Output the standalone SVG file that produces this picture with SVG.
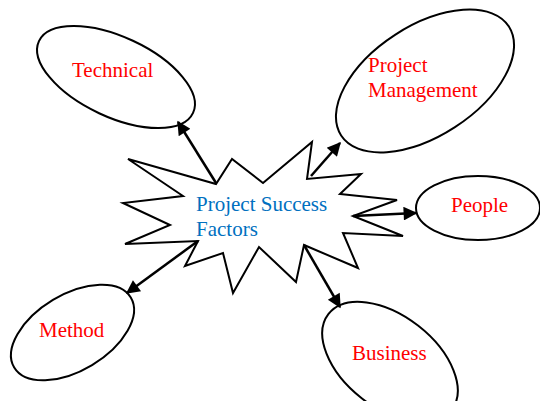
<svg xmlns="http://www.w3.org/2000/svg" width="540" height="401" viewBox="0 0 540 401">
<defs>
<style>
.node ellipse{fill:#fff;stroke:#000;stroke-width:2}
.lbl{font-family:"Liberation Serif","Times New Roman",serif;font-size:21px;fill:#ff0000}
.ctr{font-family:"Liberation Serif","Times New Roman",serif;font-size:21px;fill:#0070c0}
.star{fill:#fff;stroke:#000;stroke-width:2;stroke-linejoin:miter}
.conn line{stroke:#000;stroke-width:2.5;marker-end:url(#ah)}
</style>
<marker id="ah" viewBox="0 0 10 10" refX="9" refY="5" markerWidth="6.5" markerHeight="5.5" markerUnits="strokeWidth" orient="auto">
<path d="M0,0 L10,5 L0,10 Z" fill="#000"/>
</marker>
</defs>
<rect width="540" height="401" fill="#fff"/>
<g id="technical" class="node">
<ellipse cx="116" cy="77" rx="85" ry="40" transform="rotate(25 116 77)"/>
<text class="lbl" x="72" y="77">Technical</text>
</g>
<g id="project-management" class="node">
<ellipse cx="425" cy="81" rx="100" ry="55" transform="rotate(-33 425 81)"/>
<text class="lbl" x="368" y="72">Project</text>
<text class="lbl" x="368" y="97">Management</text>
</g>
<g id="people" class="node">
<ellipse cx="478" cy="208" rx="62" ry="32"/>
<text class="lbl" x="451" y="212">People</text>
</g>
<g id="method" class="node">
<ellipse cx="72.5" cy="332.5" rx="68" ry="38" transform="rotate(-31 72.5 332.5)"/>
<text class="lbl" x="39" y="337">Method</text>
</g>
<g id="business" class="node">
<ellipse cx="390" cy="362" rx="78" ry="46" transform="rotate(38 390 362)"/>
<text class="lbl" x="352" y="360">Business</text>
</g>
<g id="center" class="node">
<polygon class="star" points="128,159 216,184 232,159 263,183 312,142 307,179 361,174 340,194 397,200 353,216 403,236 343,233 358,268 304,245 296,282 259,247 233,293 223,253 185,266 198,241 125,244 170,225 123,203 183,196"/>
<text class="ctr" x="196" y="211">Project Success</text>
<text class="ctr" x="196" y="236">Factors</text>
</g>
<g id="connectors" class="conn">
<line x1="216" y1="183" x2="178" y2="122"/>
<line x1="311" y1="176" x2="340" y2="143"/>
<line x1="353" y1="216" x2="416" y2="213"/>
<line x1="198" y1="241" x2="127" y2="293"/>
<line x1="304" y1="245" x2="340" y2="307"/>
</g>
</svg>
